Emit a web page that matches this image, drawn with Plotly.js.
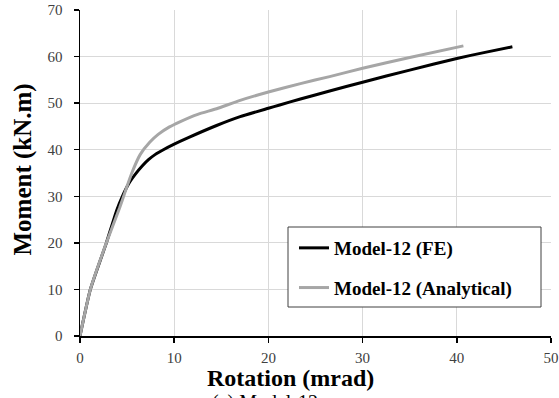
<!DOCTYPE html>
<html>
<head>
<meta charset="utf-8">
<script src="https://cdn.plot.ly/plotly-3.0.1.min.js"></script>
<style>html,body{margin:0;padding:0;background:#fff;}#chart{width:559px;height:398px;}</style>
</head>
<body>
<div id="chart"></div>
<script>
// Model-12 (FE)
const feRotation = [0, 1.1, 2.8, 3.9, 4.5, 5.2, 5.9, 6.6, 7.3, 8.0, 8.85, 10, 11.5, 14.5, 17, 20, 21.2, 23.4, 26.5, 30, 35, 40, 43, 45.9];
const feMoment   = [0, 10, 20, 27, 30, 32.8, 34.8, 36.5, 37.9, 39, 40, 41.2, 42.6, 45.2, 47.1, 48.9, 49.6, 50.9, 52.6, 54.5, 57.1, 59.6, 60.9, 62.1];
// Model-12 (Analytical)
const anRotation = [0, 1.1, 2.8, 4.2, 4.8, 5.5, 6.4, 7.4, 8.3, 9.5, 10.6, 12.5, 14.5, 17, 20, 23.4, 26.5, 30, 35, 40.7];
const anMoment   = [0, 10, 20, 27.5, 31, 35, 39.0, 41.6, 43.3, 44.9, 46.0, 47.6, 48.8, 50.6, 52.4, 54.2, 55.7, 57.5, 59.8, 62.3];

const seriesNames = ["Model-12 (FE)", "Model-12 (Analytical)"];
const xTicks = [0, 10, 20, 30, 40, 50];
const yTicks = [0, 10, 20, 30, 40, 50, 60, 70];

const serif = "Liberation Serif";

const traces = [
  {x: feRotation, y: feMoment, name: seriesNames[0], mode: "lines", type: "scatter",
   line: {color: "#000000", width: 3, shape: "spline", smoothing: 0.5}, legendgroup: "a"},
  {x: anRotation, y: anMoment, name: seriesNames[1], mode: "lines", type: "scatter",
   line: {color: "#a6a6a6", width: 3, shape: "spline", smoothing: 0.5}, legendgroup: "b"}
];

const layout = {
  width: 559, height: 398,
  margin: {l: 80, r: 8, t: 10, b: 62},
  paper_bgcolor: "#ffffff", plot_bgcolor: "#ffffff",
  font: {family: serif, color: "#404040", size: 15},
  xaxis: {
    range: [0, 50], tickvals: xTicks, ticktext: xTicks.map(String),
    showgrid: true, gridcolor: "#d9d9d9", gridwidth: 1,
    showline: true, linecolor: "#000000", linewidth: 1.5,
    ticks: "outside", ticklen: 5, tickcolor: "#000000", tickwidth: 1.5,
    ticklabelstandoff: 2,
    zeroline: false, fixedrange: true,
    tickfont: {family: serif, size: 15, color: "#404040"}
  },
  yaxis: {
    range: [0, 70], tickvals: yTicks, ticktext: yTicks.map(String),
    showgrid: true, gridcolor: "#d9d9d9", gridwidth: 1,
    showline: true, linecolor: "#000000", linewidth: 1.5,
    ticks: "outside", ticklen: 5, tickcolor: "#000000", tickwidth: 1.5,
    ticklabelstandoff: 8,
    zeroline: false, fixedrange: true,
    tickfont: {family: serif, size: 15, color: "#404040"}
  },
  showlegend: true,
  legend: {
    x: (294 - 80) / 471, y: (336 - 229) / 326, xanchor: "left", yanchor: "top",
    bgcolor: "rgba(0,0,0,0)", borderwidth: 0,
    font: {family: serif, size: 19, color: "#000000", weight: "bold"},
    tracegroupgap: 12, traceorder: "grouped", itemwidth: 30
  },
  shapes: [
    {type: "rect", xref: "paper", yref: "paper", layer: "above",
     x0: (288 - 80) / 471, x1: (541 - 80) / 471, y0: (336 - 307) / 326, y1: (336 - 227) / 326,
     fillcolor: "#ffffff", line: {color: "#404040", width: 1}}
  ],
  annotations: [
    {text: "<b>Rotation (mrad)</b>", xref: "paper", yref: "paper", x: (290 - 80) / 471, y: -(378 - 336) / 326,
     xanchor: "center", yanchor: "middle", showarrow: false,
     font: {family: serif, size: 24, color: "#000000"}},
    {text: "<b>Moment (kN.m)</b>", xref: "paper", yref: "paper", x: (22.5 - 80) / 471, y: (336 - 170) / 326,
     xanchor: "center", yanchor: "middle", showarrow: false, textangle: -90,
     font: {family: serif, size: 25, color: "#000000"}},
    {text: "(a) Model-12", xref: "paper", yref: "paper", x: (210 - 80) / 471, y: -0.1626,
     xanchor: "left", yanchor: "top", showarrow: false,
     font: {family: serif, size: 20, color: "#000000"}}
  ]
};

Plotly.newPlot("chart", traces, layout, {displayModeBar: false, staticPlot: true});
</script>
</body>
</html>
